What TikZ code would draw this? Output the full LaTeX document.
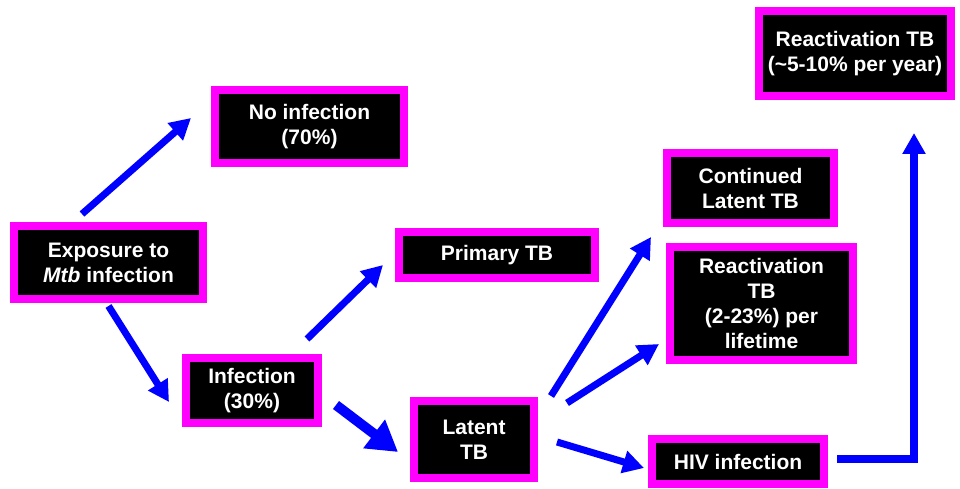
\documentclass[tikz,border=0pt]{standalone}
\usepackage{fontspec}
\setmainfont{Liberation Sans}
\usetikzlibrary{calc, arrows.meta}

\definecolor{StageFrame}{RGB}{255,0,255}
\definecolor{FlowBlue}{RGB}{0,0,255}

\tikzset{
    stage/.style = {draw = StageFrame, fill = black, line width = 8pt, text = white,
        font = \fontsize{21}{25}\selectfont\bfseries, align = center, inner sep = 0pt},
    flow/.style = {draw = FlowBlue, line width = 7pt, -{Triangle[length = 21pt, width = 22pt]}},
    bigflow/.style = {draw = FlowBlue, line width = 10pt, -{Triangle[length = 30pt, width = 34pt]}}
}

\begin{document}
\begin{tikzpicture}[x = 1pt, y = -1pt]

\useasboundingbox (0, 0) rectangle (960, 489);

\node[stage, minimum width = 189pt, minimum height = 73pt] (expo) at (108.5, 262.5) {Exposure to\\\textit{Mtb} infection};
\node[stage, minimum width = 189pt, minimum height = 73pt] (noinf) at (309.5, 126.5) {No infection\\(70\%)};
\node[stage, minimum width = 132pt, minimum height = 65pt] (infection) at (252, 390.5) {Infection\\(30\%)};
\node[stage, minimum width = 196pt, minimum height = 46pt] (primary) at (497, 255) {Primary TB};
\node[stage, minimum width = 120pt, minimum height = 77pt] (latent) at (474, 439.5) {Latent\\TB};
\node[stage, minimum width = 167pt, minimum height = 70pt] (cont) at (750.5, 188) {Continued\\Latent TB};
\node[stage, minimum width = 183pt, minimum height = 113pt] (reactlife) at (761.5, 303.5) {Reactivation\\TB\\(2-23\%) per\\lifetime};
\node[stage, minimum width = 172pt, minimum height = 45pt] (hiv) at (738, 461.5) {HIV infection};
\node[stage, minimum width = 192pt, minimum height = 85pt] (reactyear) at (855, 53.5) {Reactivation TB\\(\textasciitilde5-10\% per year)};

\draw[flow] ($(expo.north)+(-26.5,-8)$) -- ($(noinf.west)+(-20,-8.5)$);
\draw[flow] ($(expo.south)+(0,3)$) -- ($(infection.west)+(-13,11.5)$);
\draw[flow] ($(infection.north)+(55,-15)$) -- ($(primary.west)+(-12,10)$);
\draw[bigflow] ($(infection.east)+(14,14.5)$) -- ($(latent.west)+(-12,12.5)$);
\draw[flow] ($(latent.north east)+(13,-1)$) -- ($(cont.south west)+(-12,10)$);
\draw[flow] ($(latent.north east)+(29,6)$) -- ($(reactlife.west)+(-7,40.5)$);
\draw[flow] ($(latent.east)+(19,2.5)$) -- ($(hiv.west)+(-4,6.5)$);
\draw[flow, line width = 8pt] ($(hiv.east)+(9,-2.5)$) -| ($(reactyear.south)+(59,33)$);

\end{tikzpicture}
\end{document}
